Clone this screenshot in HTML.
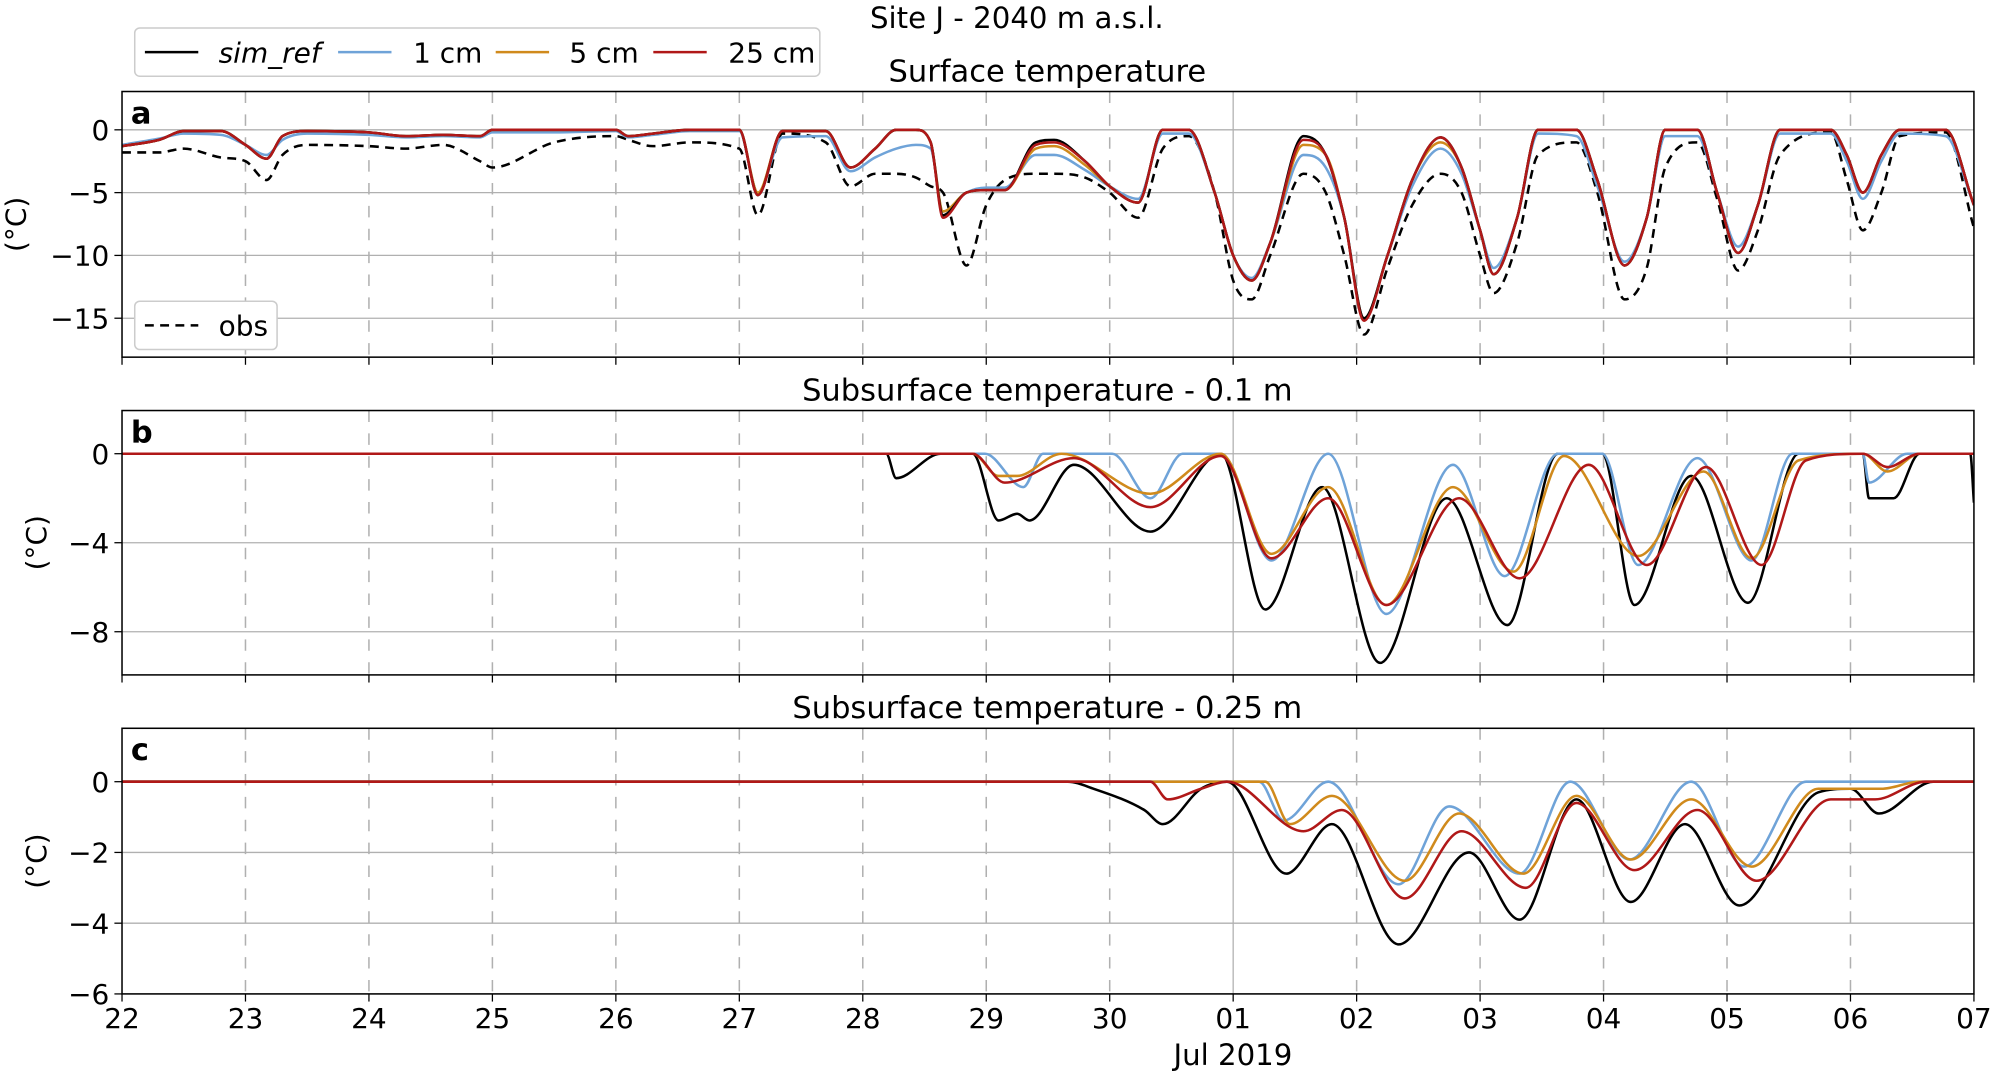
<!DOCTYPE html>
<html><head><meta charset="utf-8"><style>
html,body{margin:0;padding:0;background:#fff}
svg{display:block}
text{font-family:"DejaVu Sans","Liberation Sans",sans-serif;fill:#000}
</style></head><body>
<svg id="chart" width="1993" height="1074" viewBox="0 0 1568 845" preserveAspectRatio="none" xmlns="http://www.w3.org/2000/svg">
<text x="800" y="22" font-size="23" text-anchor="middle">Site J - 2040 m a.s.l.</text>
<g id="legend">
<rect x="106" y="22" width="539" height="38" rx="4" fill="#fff" stroke="#ccc" stroke-width="1.2"/>
<line x1="114" y1="41" x2="156" y2="41" stroke="#000" stroke-width="2"/>
<text x="172" y="49" font-size="22" font-style="italic">sim_ref</text>
<line x1="266" y1="41" x2="308" y2="41" stroke="#6fa3d8" stroke-width="2"/>
<text x="325" y="49" font-size="22">1 cm</text>
<line x1="390" y1="41" x2="432" y2="41" stroke="#d08a1c" stroke-width="2"/>
<text x="448" y="49" font-size="22">5 cm</text>
<line x1="514" y1="41" x2="556" y2="41" stroke="#b01818" stroke-width="2"/>
<text x="573" y="49" font-size="22">25 cm</text>
</g>
<g id="plots"></g>
<text x="970" y="838" font-size="23" text-anchor="middle">Jul 2019</text>
</svg>
<script>
// ---------- Panel a: surface temperature ----------
const tA = [0,0.3,0.5,0.8,1.0,1.17,1.3,1.5,2.0,2.3,2.6,2.9,3.0,3.5,4.0,4.1,4.3,4.6,5.0,5.15,5.35,5.7,5.9,6.1,6.27,6.43,6.55,6.65,6.84,7.0,7.15,7.4,7.55,7.8,8.0,8.23,8.43,8.64,8.85,9.0,9.15,9.3,9.57,9.75,9.9,10.06,10.25,10.45,10.68,10.85,11.0,11.11,11.3,11.47,11.78,11.95,12.17,12.35,12.5,12.76,12.92,13.09,13.25,13.43,13.84,13.97,14.1,14.25,14.4,14.77,15.0];
const aRef = [-1.3,-0.8,-0.1,-0.1,-1.2,-2.3,-0.5,-0.1,-0.2,-0.5,-0.4,-0.5,0,0,0,-0.5,-0.3,0,0,-5.2,-0.1,-0.1,-3.0,-1.5,0,0,-1,-6.8,-5.0,-4.8,-4.8,-1.0,-0.8,-2.5,-4.5,-5.8,0,0,-5,-10,-12,-9,-0.5,-2,-7,-15,-10,-4,-0.6,-3,-8,-11.5,-7,0,0,-4,-10.8,-7,0,0,-5,-9.8,-6,0,0,-2,-5,-2,0,0,-6];
const a1cm = [-1.2,-0.7,-0.3,-0.4,-1.2,-2.0,-0.8,-0.3,-0.4,-0.6,-0.5,-0.6,-0.2,-0.2,-0.1,-0.6,-0.4,-0.1,-0.1,-5.0,-0.6,-0.5,-3.3,-2.2,-1.5,-1.2,-1.5,-6.5,-5.0,-4.6,-4.6,-2.0,-2.0,-3.2,-4.5,-5.5,-0.3,-0.3,-5,-10,-11.8,-9,-2.0,-3,-7,-15,-10,-4.5,-1.5,-3.5,-8,-11,-7,-0.3,-0.5,-4.5,-10.5,-7,-0.5,-0.5,-5,-9.3,-6,-0.3,-0.3,-2.5,-5.5,-2.5,-0.3,-0.5,-6];
const a5cm = [-1.3,-0.8,-0.1,-0.1,-1.2,-2.3,-0.5,-0.1,-0.2,-0.5,-0.4,-0.5,0,0,0,-0.5,-0.3,0,0,-5.0,-0.1,-0.1,-3.0,-1.5,0,0,-1,-6.5,-5.0,-4.8,-4.8,-1.5,-1.3,-2.8,-4.5,-5.8,0,0,-5,-10,-12,-9,-1.2,-2,-7,-15,-10,-4,-1.0,-3,-8,-11.5,-7,0,0,-4,-10.8,-7,0,0,-5,-9.8,-6,0,0,-2,-5,-2,0,0,-6];
const a25cm = [-1.3,-0.8,-0.1,-0.1,-1.2,-2.3,-0.5,-0.1,-0.2,-0.5,-0.4,-0.5,0,0,0,-0.5,-0.3,0,0,-5.2,-0.1,-0.1,-3.0,-1.5,0,0,-1,-7.0,-5.0,-4.8,-4.8,-1.2,-1.0,-2.5,-4.5,-5.8,0,0,-5,-10,-12,-9,-0.8,-2,-7,-15.2,-10,-4,-0.6,-3,-8,-11.5,-7,0,0,-4,-10.8,-7,0,0,-5,-9.8,-6,0,0,-2,-5,-2,0,0,-6];
const aObs = [-1.8,-1.8,-1.5,-2.2,-2.5,-4.0,-2,-1.2,-1.3,-1.5,-1.2,-2.5,-3.0,-1.0,-0.5,-0.8,-1.3,-1.0,-1.5,-6.8,-0.3,-1.0,-4.5,-3.5,-3.5,-3.8,-4.5,-5,-10.8,-6,-4,-3.5,-3.5,-3.8,-5,-7,-1.5,-0.5,-5,-12,-13.5,-10,-3.5,-5,-10,-16.3,-11,-6,-3.5,-5,-10,-13,-9,-2,-1,-5,-13.5,-11,-3,-1,-5.5,-11.2,-8,-2,-0.2,-4,-8,-5,-0.5,-0.2,-7.8];

// ---------- Panel b: 0.1 m ----------
const bRefT = [0,6.19,6.27,6.63,6.89,7.10,7.25,7.35,7.71,8.33,8.90,9.26,9.72,10.19,10.73,11.22,11.63,11.99,12.25,12.71,13.17,13.58,14.10,14.15,14.35,14.56,14.97,15];
const bRefV = [0,0,-1.1,0,0,-3,-2.7,-3,-0.5,-3.5,0,-7,-1.5,-9.4,-2,-7.7,0,0,-6.8,-1,-6.7,0,0,-2,-2,0,0,-2.2];
const b1T = [0,6.99,7.30,7.46,8.02,8.33,8.59,8.90,9.31,9.77,10.24,10.78,11.20,11.63,11.99,12.28,12.76,13.20,13.53,14.10,14.15,14.46,15];
const b1V = [0,0,-1.5,0,0,-2,0,0,-4.8,0,-7.2,-0.5,-5.5,0,0,-5,-0.2,-4.8,0,0,-1.3,0,0];
const b5T = [0,6.89,7.10,7.25,7.61,8.33,8.90,9.31,9.77,10.24,10.78,11.27,11.68,12.28,12.81,13.20,13.58,14.10,14.30,14.56,15];
const b5V = [0,0,-1,-1,0,-1.8,0,-4.5,-1.5,-6.8,-1.5,-5.3,-0.1,-4.6,-0.8,-4.7,-0.3,0,-0.8,0,0];
const b25T = [0,6.89,7.15,7.71,8.33,8.90,9.31,9.77,10.24,10.83,11.32,11.88,12.35,12.83,13.28,13.64,14.10,14.30,14.56,15];
const b25V = [0,0,-1.3,-0.2,-2.4,-0.1,-4.7,-2.0,-6.8,-2.0,-5.6,-0.5,-5,-0.6,-5,-0.3,0,-0.6,0,0];

// ---------- Panel c: 0.25 m ----------
const cRefT = [0,7.66,7.87,8.28,8.43,8.74,8.95,9.43,9.80,10.34,10.91,11.32,11.78,12.22,12.66,13.10,13.74,14.0,14.23,14.67,15];
const cRefV = [0,0,-0.2,-0.8,-1.2,-0.2,0,-2.6,-1.2,-4.6,-2,-3.9,-0.5,-3.4,-1.2,-3.5,-0.3,-0.2,-0.9,0,0];
const c1T = [0,9.21,9.41,9.77,10.34,10.75,11.32,11.73,12.21,12.71,13.14,13.64,15];
const c1V = [0,0,-1.1,0,-2.9,-0.7,-2.6,0,-2.2,0,-2.4,0,0];
const c5T = [0,9.26,9.46,9.80,10.39,10.83,11.35,11.78,12.22,12.71,13.20,13.74,14.25,14.56,15];
const c5V = [0,0,-1.2,-0.4,-2.8,-0.9,-2.6,-0.4,-2.2,-0.5,-2.4,-0.2,-0.2,0,0];
const c25T = [0,8.33,8.47,8.74,8.95,9.57,9.88,10.39,10.85,11.37,11.78,12.25,12.76,13.24,13.84,14.20,14.61,15];
const c25V = [0,0,-0.5,-0.2,0,-1.4,-0.8,-3.3,-1.4,-3.0,-0.6,-2.5,-0.8,-2.8,-0.5,-0.5,0,0];

const dayLabels = ["22","23","24","25","26","27","28","29","30","01","02","03","04","05","06","07"];
const aTicks = [0,-5,-10,-15];
const bTicks = [0,-4,-8];
const cTicks = [0,-2,-4,-6];

const NS = "http://www.w3.org/2000/svg";
const X0 = 96, X1 = 1553, T0 = 0, T1 = 15;
const xs = t => X0 + (t - T0) / (T1 - T0) * (X1 - X0);
const COL = {ref:"#000", c1:"#6fa3d8", c5:"#d08a1c", c25:"#b01818"};
const root = document.getElementById('plots');

function mk(tag, attrs, parent){
  const e = document.createElementNS(NS, tag);
  for (const k in attrs) e.setAttribute(k, attrs[k]);
  (parent||root).appendChild(e);
  return e;
}
function monoPath(px, py){
  const n = Math.min(px.length, py.length);
  if (n < 2) return "";
  const d = [], m = [];
  for (let i=0;i<n-1;i++) d.push((py[i+1]-py[i])/(px[i+1]-px[i]));
  m.push(d[0]);
  for (let i=1;i<n-1;i++){ m.push(d[i-1]*d[i] <= 0 ? 0 : (d[i-1]+d[i])/2); }
  m.push(d[n-2]);
  for (let i=0;i<n-1;i++){
    if (d[i]===0){ m[i]=0; m[i+1]=0; continue; }
    const a=m[i]/d[i], b=m[i+1]/d[i], s=a*a+b*b;
    if (s>9){ const tt=3/Math.sqrt(s); m[i]=tt*a*d[i]; m[i+1]=tt*b*d[i]; }
  }
  let p = "M"+px[0].toFixed(2)+","+py[0].toFixed(2);
  for (let i=0;i<n-1;i++){
    const h=(px[i+1]-px[i])/3;
    p += "C"+(px[i]+h).toFixed(2)+","+(py[i]+m[i]*h).toFixed(2)+" "+(px[i+1]-h).toFixed(2)+","+(py[i+1]-m[i+1]*h).toFixed(2)+" "+px[i+1].toFixed(2)+","+py[i+1].toFixed(2);
  }
  return p;
}

function panel(key, top, bot, vmax, vmin, ticks, title, letter, series, showX){
  const ys = v => top + (vmax - v) / (vmax - vmin) * (bot - top);
  const g = mk('g', {});
  
  
  // title
  const tt = mk('text', {x: 824, y: top - 8, 'font-size': 24, 'text-anchor': 'middle'}, g);
  tt.textContent = title;
  
  
  // grid
  for (let i=1;i<dayLabels.length-1;i++){
    const x = xs(i);
    const solid = dayLabels[i] === "01";
    const gl = mk('line', {x1:x, x2:x, y1:top, y2:bot, stroke: solid ? '#b0b0b0' : '#b0b0b0', 'stroke-width': solid ? 1 : 1.2, 'stroke-dasharray': solid ? 'none' : '9,9'}, g);
    
    
  }
  ticks.forEach(v => {
    const y = ys(v);
    const hl = mk('line', {x1:X0, x2:X1, y1:y, y2:y, stroke:'#b0b0b0', 'stroke-width':1}, g);
    
    
    mk('line', {x1:X0-6, x2:X0, y1:y, y2:y, stroke:'#000', 'stroke-width':1}, g);
    const tl = mk('text', {x: X0-10, y: y+8, 'font-size': 22, 'text-anchor': 'end'}, g);
    tl.textContent = v < 0 ? '\u2212' + Math.abs(v) : String(v);
    
    
  });
  // x ticks
  for (let i=0;i<dayLabels.length;i++){
    const x = xs(i);
    mk('line', {x1:x, x2:x, y1:bot, y2:bot+6, stroke:'#000', 'stroke-width':1}, g);
    if (showX){
      const xl = mk('text', {x:x, y:bot+27, 'font-size':22, 'text-anchor':'middle'}, g);
      xl.textContent = dayLabels[i];
      
      
    }
  }
  // clip
  const cid = 'clip-' + key;
  const cp = mk('clipPath', {id: cid}, g);
  mk('rect', {x:X0, y:top, width:X1-X0, height:bot-top}, cp);
  const sg = mk('g', {'clip-path': 'url(#' + cid + ')'}, g);
  series.forEach(s => {
    const px = s.t.map(xs), py = s.v.map(ys);
    const p = mk('path', {d: monoPath(px, py), fill:'none', stroke: s.c, 'stroke-width': 2, 'stroke-linejoin':'round', 'stroke-dasharray': s.dash || 'none'}, sg);
    
    
  });
  // frame
  mk('rect', {x:X0, y:top, width:X1-X0, height:bot-top, fill:'none', stroke:'#000', 'stroke-width':1.2}, g);
  const lt = mk('text', {x:103, y:top+25, 'font-size':24, 'font-weight':'bold'}, g);
  lt.textContent = letter;
  
  
  const yl = mk('text', {x:0, y:0, 'font-size':22, 'text-anchor':'middle', transform:'translate(' + (key==='a'?20:36) + ',' + ((top+bot)/2) + ') rotate(-90)'}, g);
  yl.textContent = '(\u00B0C)';
  
  
}

panel('a', 72, 281, 3.05, -18.1, aTicks, 'Surface temperature', 'a', [
  {n:'obs', t:tA, v:aObs, c:'#000', dash:'7,5'},
  {n:'1cm', t:tA, v:a1cm, c:COL.c1},
  {n:'5cm', t:tA, v:a5cm, c:COL.c5},
  {n:'sim-ref', t:tA, v:aRef, c:COL.ref},
  {n:'25cm', t:tA, v:a25cm, c:COL.c25}
], false);
panel('b', 323, 531, 1.94, -9.94, bTicks, 'Subsurface temperature - 0.1 m', 'b', [
  {n:'sim-ref', t:bRefT, v:bRefV, c:COL.ref},
  {n:'1cm', t:b1T, v:b1V, c:COL.c1},
  {n:'5cm', t:b5T, v:b5V, c:COL.c5},
  {n:'25cm', t:b25T, v:b25V, c:COL.c25}
], false);
panel('c', 573, 782, 1.51, -6, cTicks, 'Subsurface temperature - 0.25 m', 'c', [
  {n:'sim-ref', t:cRefT, v:cRefV, c:COL.ref},
  {n:'1cm', t:c1T, v:c1V, c:COL.c1},
  {n:'5cm', t:c5T, v:c5V, c:COL.c5},
  {n:'25cm', t:c25T, v:c25V, c:COL.c25}
], true);

// obs legend in panel a
const og = mk('g', {});


mk('rect', {x:106, y:237, width:112, height:38, rx:4, fill:'#fff', stroke:'#ccc', 'stroke-width':1.2}, og);
mk('line', {x1:114, x2:156, y1:256, y2:256, stroke:'#000', 'stroke-width':2, 'stroke-dasharray':'7,5'}, og);
const ot = mk('text', {x:172, y:264, 'font-size':22}, og);
ot.textContent = 'obs';
</script>
</body></html>
